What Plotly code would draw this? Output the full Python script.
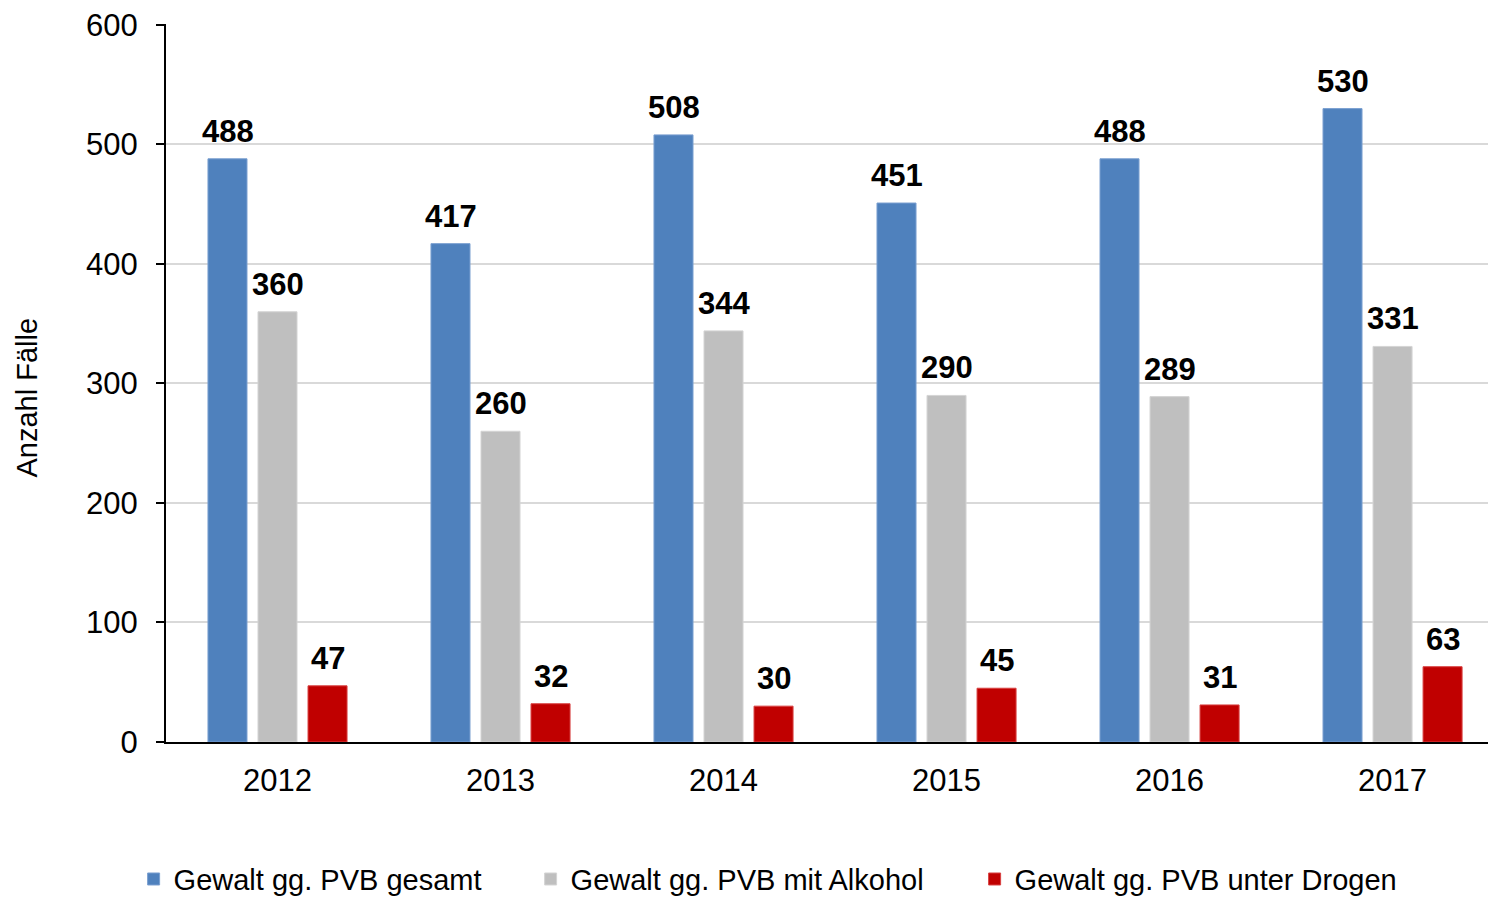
import plotly.graph_objects as go

years = ["2012", "2013", "2014", "2015", "2016", "2017"]
gesamt = [488, 417, 508, 451, 488, 530]
alkohol = [360, 260, 344, 290, 289, 331]
drogen = [47, 32, 30, 45, 31, 63]
series_names = ["Gewalt gg. PVB gesamt", "Gewalt gg. PVB mit Alkohol", "Gewalt gg. PVB unter Drogen"]
y_title = "Anzahl Fälle"
colors = ["#4F81BD", "#BFBFBF", "#C00000"]
edge_colors = ["#7A9FD0", "#D4D4D4", "#D84040"]
legend_widths = [352, 399, 400]
y_ticks = [0, 100, 200, 300, 400, 500, 600]

FONT = "Arial, Liberation Sans, sans-serif"

fig = go.Figure()
all_series = [gesamt, alkohol, drogen]
for name, vals, col, ec, lw in zip(series_names, all_series, colors, edge_colors, legend_widths):
    fig.add_trace(go.Bar(
        x=years, y=vals, name=name, legendwidth=lw,
        marker=dict(color=col, line=dict(color=ec, width=1)),
    ))

offsets_px = [-50, 0, 50]
for vals, dx in zip(all_series, offsets_px):
    for i, v in enumerate(vals):
        fig.add_annotation(
            x=i, y=v, xref="x", yref="y", text=f"<b>{v}</b>",
            showarrow=False, yanchor="bottom", xanchor="center",
            xshift=dx, yshift=8,
            font=dict(family=FONT, size=31, color="black"),
        )

# y-axis title (placed slightly below the axis centre, as in the original)
fig.add_annotation(
    x=-0.105, y=0.48, xref="paper", yref="paper", text=y_title,
    textangle=-90, showarrow=False, xanchor="center", yanchor="middle",
    font=dict(family=FONT, size=29, color="black"),
)

fig.update_layout(
    width=1488, height=897,
    paper_bgcolor="white", plot_bgcolor="white",
    barmode="group", bargap=0.327, bargroupgap=0.22,
    margin=dict(l=166, r=0, t=24, b=155, autoexpand=False),
    font=dict(family=FONT, size=29, color="black"),
    showlegend=True,
    legend=dict(
        orientation="h", x=-0.0245, xanchor="left", y=-0.191, yanchor="middle",
        font=dict(family=FONT, size=29, color="black"),
        traceorder="normal",
    ),
)
fig.update_xaxes(
    type="category", range=[-0.5, 5.428],
    showline=True, linecolor="black", linewidth=2,
    ticks="", showgrid=False, ticklabelstandoff=10,
    tickfont=dict(family=FONT, size=31, color="black"),
)
fig.update_yaxes(
    range=[0, 600.8], tickvals=y_ticks,
    showline=True, linecolor="black", linewidth=2,
    ticks="outside", ticklen=8, tickcolor="black", tickwidth=2,
    showgrid=True, gridcolor="#D9D9D9", gridwidth=2,
    zeroline=False, ticklabelstandoff=12,
    tickfont=dict(family=FONT, size=31, color="black"),
)

fig.write_html("out.html", config={"displayModeBar": False},
               post_script="document.body.style.margin='0px';")
